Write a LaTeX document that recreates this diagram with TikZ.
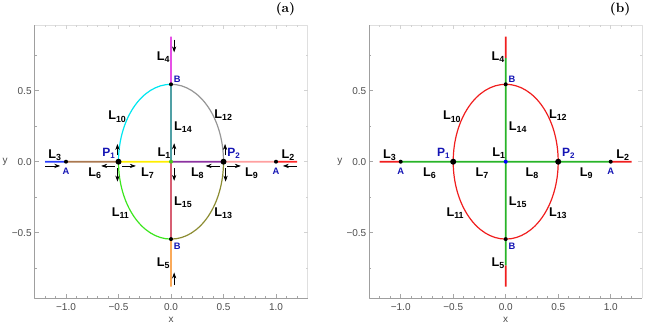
\documentclass[tikz,border=0pt]{standalone}
\usepackage{fontspec}
\newfontfamily\plotfont{Liberation Sans}
\usetikzlibrary{arrows.meta}
\definecolor{cLthree}{RGB}{40,60,250}
\definecolor{cLsix}{RGB}{170,120,80}
\definecolor{cLseven}{RGB}{255,238,0}
\definecolor{cLeight}{RGB}{140,50,160}
\definecolor{cLnine}{RGB}{255,160,160}
\definecolor{cLtwo}{RGB}{255,40,40}
\definecolor{cLfour}{RGB}{230,80,230}
\definecolor{cLfourteen}{RGB}{80,160,165}
\definecolor{cLfifteen}{RGB}{215,95,115}
\definecolor{cLfive}{RGB}{250,170,90}
\definecolor{cLten}{RGB}{0,230,240}
\definecolor{cLtwelve}{RGB}{150,150,150}
\definecolor{cLeleven}{RGB}{60,230,30}
\definecolor{cLthirteen}{RGB}{140,140,50}
\definecolor{cRed}{RGB}{240,30,30}
\definecolor{cGreen}{RGB}{40,180,40}
\definecolor{cPt}{RGB}{20,20,180}
\newcommand{\Lsub}[1]{L\textsubscript{#1}}
\newcommand{\Psub}[1]{P\textsubscript{#1}}
\tikzset{
  seg/.style={line width=1.3pt},
  arcseg/.style={line width=0.9pt},
  flow/.style={-{Stealth[length=4.5pt,width=3.2pt]},line width=0.5pt},
  curvelabel/.style={font=\plotfont\bfseries\fontsize{9.5}{9.5}\selectfont,inner sep=0pt},
  pointlabel/.style={font=\plotfont\bfseries\fontsize{9}{9}\selectfont,text=cPt,inner sep=0pt},
  endlabel/.style={font=\plotfont\bfseries\fontsize{7}{7}\selectfont,text=cPt,inner sep=0pt},
  ticklabel/.style={font=\plotfont\fontsize{7.5}{7.5}\selectfont,text=black!70,inner sep=0pt},
  smalldot/.style={fill=black,circle,inner sep=0pt,minimum size=3pt},
  bigdot/.style={fill=black,circle,inner sep=0pt,minimum size=4.5pt}
}
\begin{document}
\begin{tikzpicture}[x=0.75pt,y=0.75pt,>=Stealth,line join=round]
  \useasboundingbox (0,0) rectangle (645,327);
  \foreach \ox/\tag in {171/a,505.7/b}{
    \begin{scope}[shift={(\ox,165.3)},x=78.75pt,y=106.5pt]
      \draw[gray!25,line width=0.5pt] (-1.3,0.96) -- (1.3,0.96) -- (1.3,-0.96);
      \foreach \t in {-1.2,-1.1,...,1.25}{
        \draw[gray!70,line width=0.4pt] (\t,-0.96) -- ++(0,1.5pt);
        \draw[gray!35,line width=0.4pt] (\t,0.96) -- ++(0,-1.5pt);
      }
      \foreach \t in {-0.75,-0.25,0.25,0.75}{
        \draw[gray!70,line width=0.4pt] (-1.3,\t) -- ++(1.5pt,0);
        \draw[gray!35,line width=0.4pt] (1.3,\t) -- ++(-1.5pt,0);
      }
      \foreach \t/\s in {-1/{−1.0},-0.5/{−0.5},0/{0.0},0.5/{0.5},1/{1.0}}{
        \draw[gray!70,line width=0.5pt] (\t,-0.96) -- ++(0,3pt);
        \draw[gray!35,line width=0.5pt] (\t,0.96) -- ++(0,-3pt);
        \node[ticklabel] at (\t,-1.025) {\s};
      }
      \foreach \t/\s in {-0.5/{−0.5},0/{0.0},0.5/{0.5}}{
        \draw[gray!70,line width=0.5pt] (-1.3,\t) -- ++(3pt,0);
        \draw[gray!35,line width=0.5pt] (1.3,\t) -- ++(-3pt,0);
        \node[ticklabel,anchor=east] at (-1.3,\t) [xshift=-2pt] {\s};
      }
      \draw[gray!75,line width=0.6pt] (-1.3,0.96) -- (-1.3,-0.96) -- (1.3,-0.96);
      \node[ticklabel] at (0,-1.115) {x};
      \node[ticklabel] at (-1.58,0) {y};
      \node[font=\bfseries\fontsize{10}{10}\selectfont,inner sep=0pt] at (1.09,1.075) {(\tag)};
    \end{scope}
  }
  % panel (a)
  \begin{scope}[shift={(171,165.3)},x=78.75pt,y=106.5pt]
    \coordinate (aAl) at (-1.0,0);
    \coordinate (aAr) at (1.0,0);
    \coordinate (aP1) at (-0.5,0);
    \coordinate (aP2) at (0.5,0);
    \coordinate (aO) at (0,0);
    \coordinate (aBt) at (0,0.545);
    \coordinate (aBb) at (0,-0.545);
    \coordinate (aEl) at (-1.2,0);
    \coordinate (aEr) at (1.2,0);
    \coordinate (aEt) at (0,0.88);
    \coordinate (aEb) at (0,-0.88);
    \draw[seg,draw=cLthree] (aEl) -- ([yshift=0.03pt]aAl);
    \draw[seg,draw=cLsix] (aAl) -- ([yshift=0.03pt]aP1);
    \draw[seg,draw=cLseven] (aP1) -- ([yshift=0.03pt]aO);
    \draw[seg,draw=cLeight] (aO) -- ([yshift=0.03pt]aP2);
    \draw[seg,draw=cLnine] (aP2) -- ([yshift=0.03pt]aAr);
    \draw[seg,draw=cLtwo] (aAr) -- ([yshift=0.03pt]aEr);
    \draw[seg,draw=cLfour] (aBt) -- ([xshift=0.03pt]aEt);
    \draw[seg,draw=cLfourteen] (aO) -- ([xshift=0.03pt]aBt);
    \draw[seg,draw=cLfifteen] (aO) -- ([xshift=0.03pt]aBb);
    \draw[seg,draw=cLfive] (aBb) -- ([xshift=0.03pt]aEb);
    \draw[arcseg,draw=cLten] (aBt) arc[start angle=90,end angle=180,x radius=0.5,y radius=0.545];
    \draw[arcseg,draw=cLeleven] (aP1) arc[start angle=180,end angle=270,x radius=0.5,y radius=0.545];
    \draw[arcseg,draw=cLthirteen] (aBb) arc[start angle=270,end angle=360,x radius=0.5,y radius=0.545];
    \draw[arcseg,draw=cLtwelve] (aP2) arc[start angle=0,end angle=90,x radius=0.5,y radius=0.545];
    \node[smalldot] (adAl) at (aAl) {};
    \node[smalldot] (adAr) at (aAr) {};
    \node[smalldot] (adBt) at (aBt) {};
    \node[smalldot] (adBb) at (aBb) {};
    \node[bigdot] (adP1) at (aP1) {};
    \node[bigdot] (adP2) at (aP2) {};
    \node[smalldot,fill=cGreen!80!lime] (adO) at (aO) {};
    \draw[flow] (-1.2,-0.03) -- (-1.055,-0.03);
    \draw[flow] (-0.535,-0.03) -- (-0.665,-0.03);
    \draw[flow] (-0.465,-0.03) -- (-0.335,-0.03);
    \draw[flow] (-0.51,0.045) -- (-0.51,0.125);
    \draw[flow] (-0.51,-0.045) -- (-0.51,-0.14);
    \draw[flow] (0.03,0.045) -- (0.03,0.13);
    \draw[flow] (0.03,-0.045) -- (0.03,-0.135);
    \draw[flow] (0.465,-0.03) -- (0.33,-0.03);
    \draw[flow] (0.535,-0.03) -- (0.665,-0.03);
    \draw[flow] (0.515,0.045) -- (0.515,0.125);
    \draw[flow] (0.52,-0.045) -- (0.52,-0.14);
    \draw[flow] (1.2,-0.03) -- (1.065,-0.03);
    \draw[flow] (0.03,0.86) -- (0.03,0.77);
    \draw[flow] (0.03,-0.87) -- (0.03,-0.78);
    \node[curvelabel] (al4) at (-0.07,0.735) {\Lsub{4}};
    \node[curvelabel] (al10) at (-0.51,0.317) {\Lsub{10}};
    \node[curvelabel] (al12) at (0.5,0.329) {\Lsub{12}};
    \node[curvelabel] (al14) at (0.117,0.246) {\Lsub{14}};
    \node[curvelabel] (al1) at (-0.064,0.059) {\Lsub{1}};
    \node[curvelabel] (al3) at (-1.105,0.047) {\Lsub{3}};
    \node[curvelabel] (al2) at (1.117,0.047) {\Lsub{2}};
    \node[curvelabel] (al6) at (-0.724,-0.082) {\Lsub{6}};
    \node[curvelabel] (al7) at (-0.222,-0.082) {\Lsub{7}};
    \node[curvelabel] (al8) at (0.254,-0.082) {\Lsub{8}};
    \node[curvelabel] (al9) at (0.769,-0.082) {\Lsub{9}};
    \node[curvelabel] (al15) at (0.117,-0.282) {\Lsub{15}};
    \node[curvelabel] (al11) at (-0.479,-0.363) {\Lsub{11}};
    \node[curvelabel] (al13) at (0.5,-0.363) {\Lsub{13}};
    \node[curvelabel] (al5) at (-0.07,-0.716) {\Lsub{5}};
    \node[pointlabel] (ap1) at (-0.59,0.059) {\Psub{1}};
    \node[pointlabel] (ap2) at (0.6,0.059) {\Psub{2}};
    \node[endlabel] (aal) at (-1.0,-0.07) {A};
    \node[endlabel] (aar) at (1.0,-0.07) {A};
    \node[endlabel] (abt) at (0.06,0.58) {B};
    \node[endlabel] (abb) at (0.06,-0.599) {B};
  \end{scope}
  % panel (b)
  \begin{scope}[shift={(505.7,165.3)},x=78.75pt,y=106.5pt]
    \coordinate (bAl) at (-1.0,0);
    \coordinate (bAr) at (1.0,0);
    \coordinate (bP1) at (-0.5,0);
    \coordinate (bP2) at (0.5,0);
    \coordinate (bO) at (0,0);
    \coordinate (bBt) at (0,0.545);
    \coordinate (bBb) at (0,-0.545);
    \coordinate (bEl) at (-1.2,0);
    \coordinate (bEr) at (1.2,0);
    \coordinate (bEt) at (0,0.88);
    \coordinate (bEb) at (0,-0.88);
    \coordinate (bCt) at (0,0.73);
    \coordinate (bCb) at (0,-0.73);
    \draw[seg,draw=cRed] (bEl) -- ([yshift=0.03pt]bAl);
    \draw[seg,draw=cRed] (bAr) -- ([yshift=0.03pt]bEr);
    \draw[seg,draw=cGreen] (bAl) -- ([yshift=0.03pt]bAr);
    \draw[seg,draw=cRed] (bCt) -- ([xshift=0.03pt]bEt);
    \draw[seg,draw=cRed] (bCb) -- ([xshift=0.03pt]bEb);
    \draw[seg,draw=cGreen] (bCb) -- ([xshift=0.03pt]bCt);
    \draw[arcseg,draw=cRed] (bO) ellipse[x radius=0.5,y radius=0.545];
    \node[smalldot] (bdAl) at (bAl) {};
    \node[smalldot] (bdAr) at (bAr) {};
    \node[smalldot] (bdBt) at (bBt) {};
    \node[smalldot] (bdBb) at (bBb) {};
    \node[bigdot] (bdP1) at (bP1) {};
    \node[bigdot] (bdP2) at (bP2) {};
    \node[smalldot,fill=blue] (bdO) at (bO) {};
    \node[curvelabel] (bl4) at (-0.07,0.735) {\Lsub{4}};
    \node[curvelabel] (bl10) at (-0.51,0.317) {\Lsub{10}};
    \node[curvelabel] (bl12) at (0.5,0.329) {\Lsub{12}};
    \node[curvelabel] (bl14) at (0.117,0.246) {\Lsub{14}};
    \node[curvelabel] (bl1) at (-0.064,0.059) {\Lsub{1}};
    \node[curvelabel] (bl3) at (-1.105,0.047) {\Lsub{3}};
    \node[curvelabel] (bl2) at (1.117,0.047) {\Lsub{2}};
    \node[curvelabel] (bl6) at (-0.724,-0.082) {\Lsub{6}};
    \node[curvelabel] (bl7) at (-0.222,-0.082) {\Lsub{7}};
    \node[curvelabel] (bl8) at (0.254,-0.082) {\Lsub{8}};
    \node[curvelabel] (bl9) at (0.769,-0.082) {\Lsub{9}};
    \node[curvelabel] (bl15) at (0.117,-0.282) {\Lsub{15}};
    \node[curvelabel] (bl11) at (-0.479,-0.363) {\Lsub{11}};
    \node[curvelabel] (bl13) at (0.5,-0.363) {\Lsub{13}};
    \node[curvelabel] (bl5) at (-0.07,-0.716) {\Lsub{5}};
    \node[pointlabel] (bp1) at (-0.59,0.059) {\Psub{1}};
    \node[pointlabel] (bp2) at (0.6,0.059) {\Psub{2}};
    \node[endlabel] (bal) at (-1.0,-0.07) {A};
    \node[endlabel] (bar) at (1.0,-0.07) {A};
    \node[endlabel] (bbt) at (0.06,0.58) {B};
    \node[endlabel] (bbb) at (0.06,-0.599) {B};
  \end{scope}
\end{tikzpicture}
\end{document}
